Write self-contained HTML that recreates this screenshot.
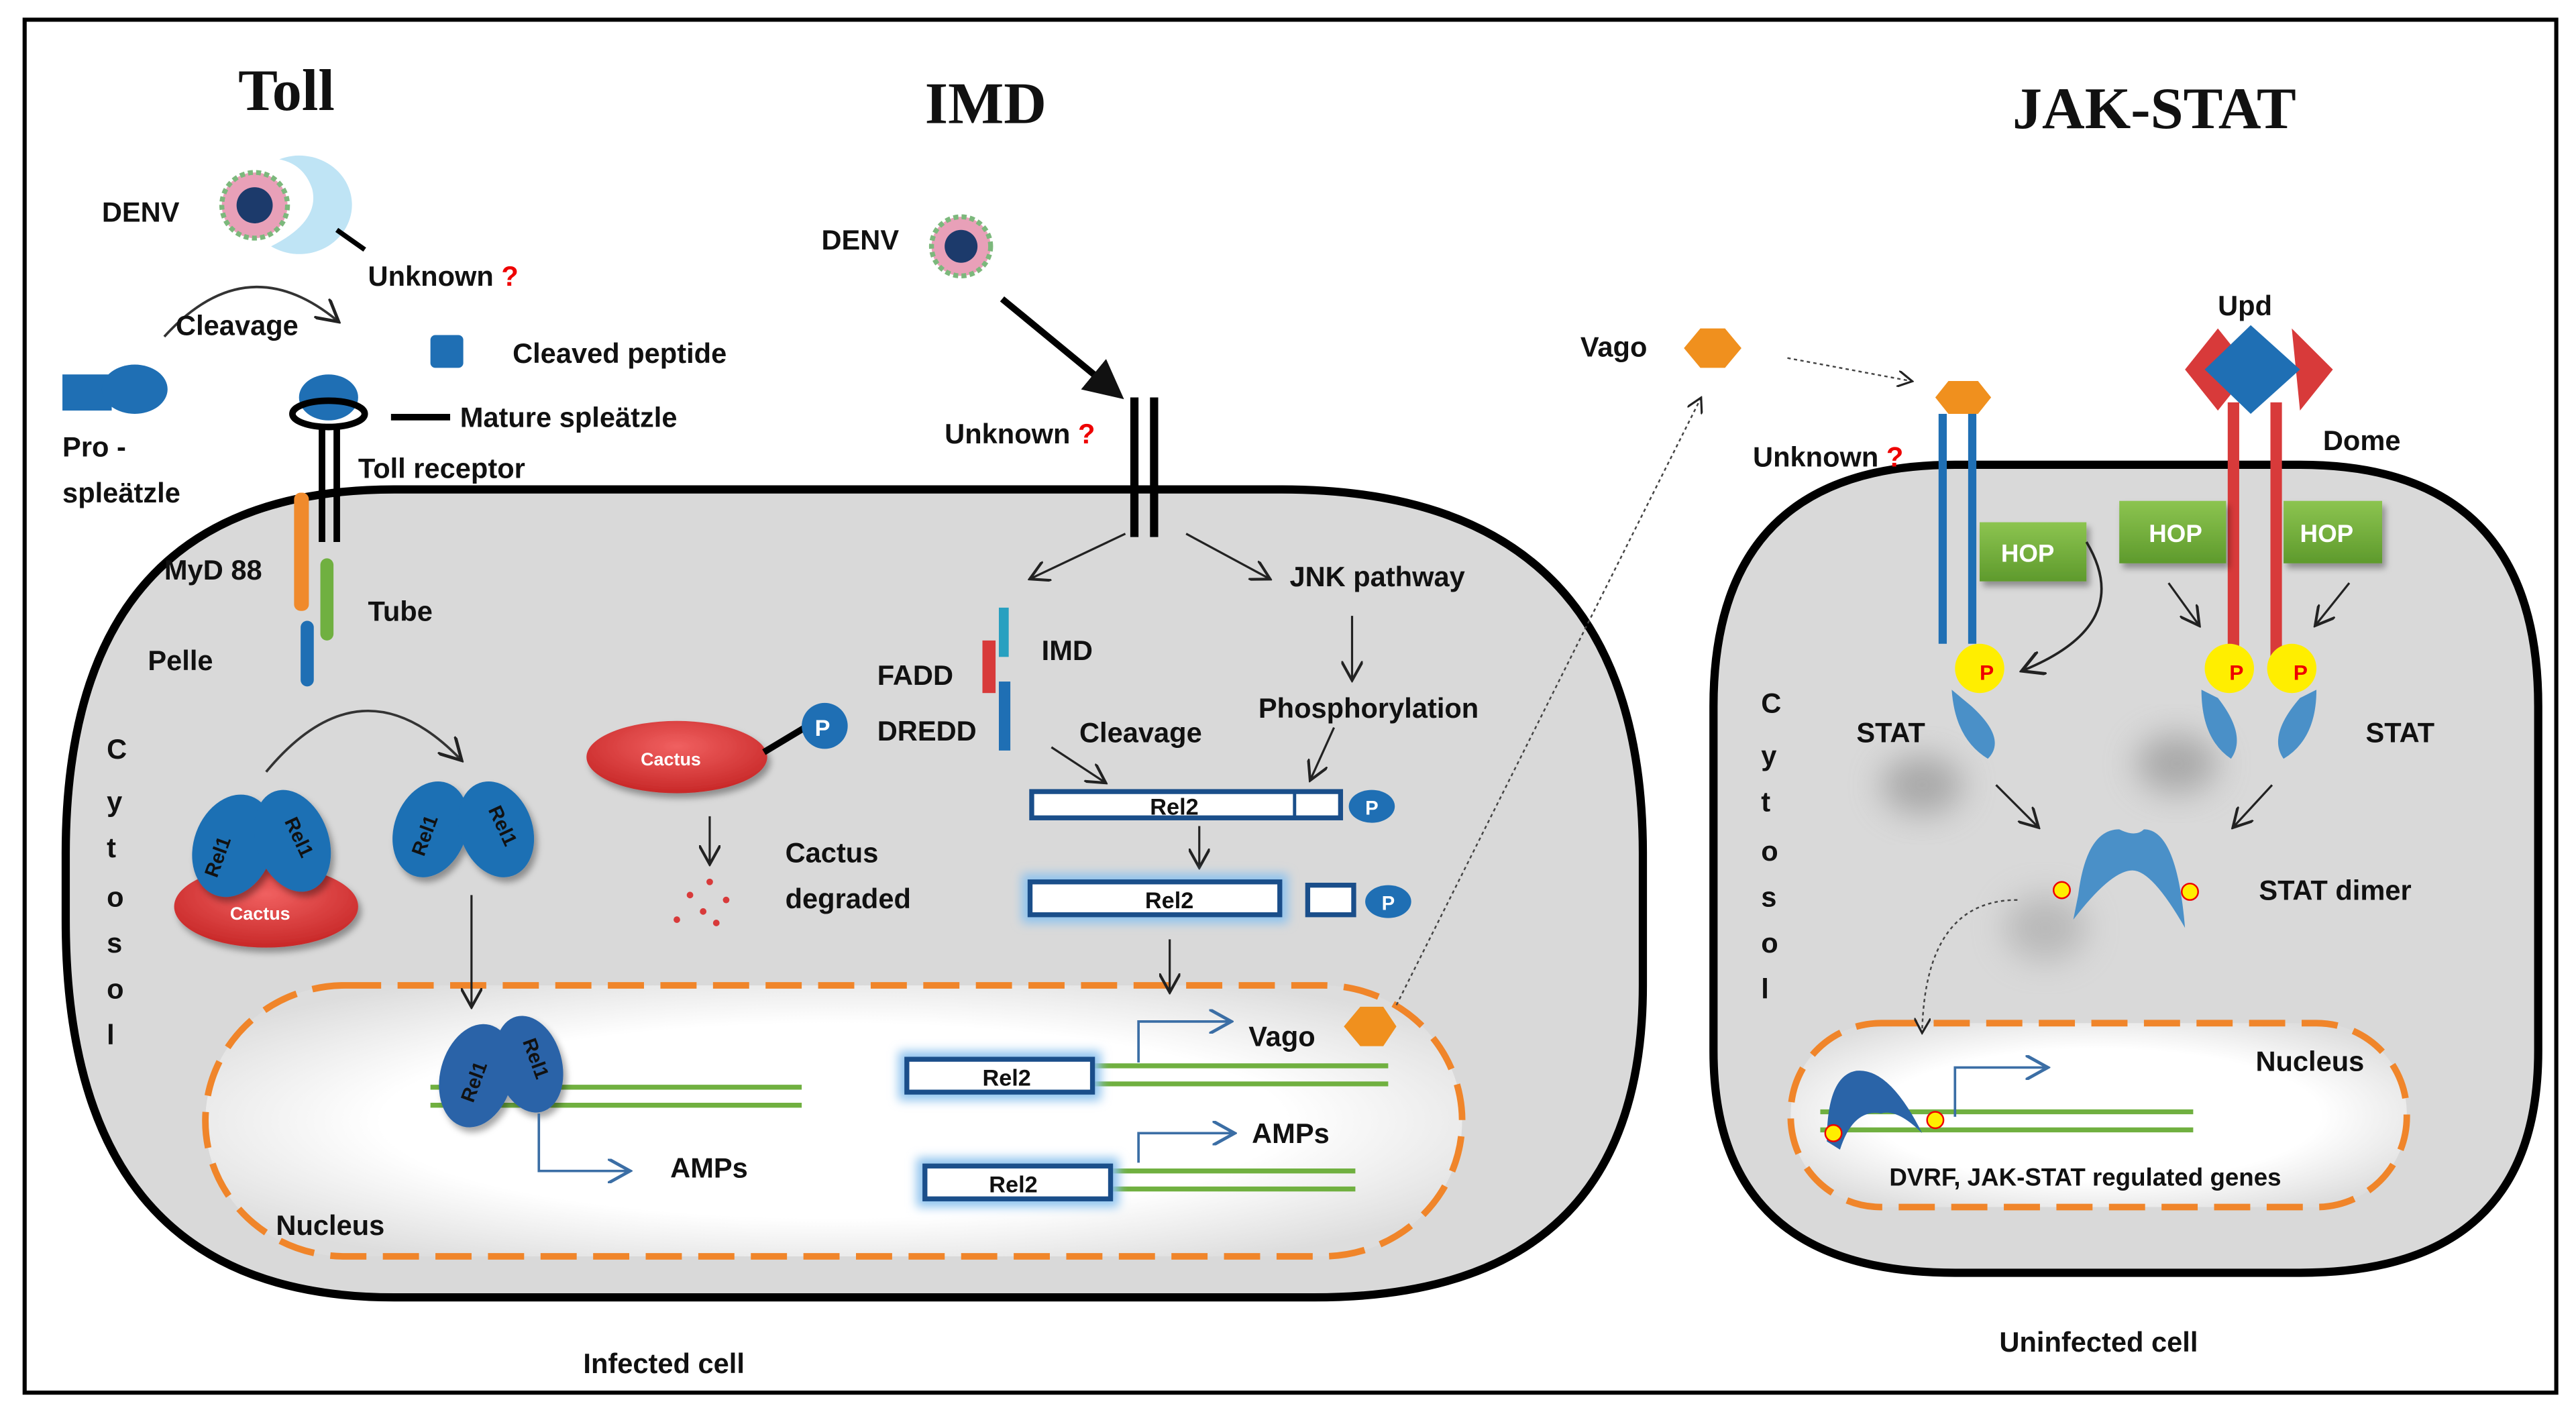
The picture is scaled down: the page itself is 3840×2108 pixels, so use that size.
<!DOCTYPE html>
<html><head><meta charset="utf-8"><style>
html,body{margin:0;padding:0;background:#fff}
svg{display:block}
text{font-family:"Liberation Sans",sans-serif;font-weight:bold;fill:#111}
.t{font-family:"Liberation Serif",serif;font-size:36px}
.l{font-size:17px}
</style></head><body>
<svg width="3840" height="2108" viewBox="0 0 1568 861" preserveAspectRatio="none" xmlns="http://www.w3.org/2000/svg">
<defs>
<radialGradient id="ng" cx="50%" cy="50%" r="60%"><stop offset="0.6" stop-color="#fff"/><stop offset="1" stop-color="#ddd"/></radialGradient>
<linearGradient id="hop" x1="0" y1="0" x2="0" y2="1"><stop offset="0" stop-color="#8cc450"/><stop offset="1" stop-color="#5e9a2c"/></linearGradient>
<radialGradient id="cac" cx="50%" cy="35%" r="65%"><stop offset="0" stop-color="#f06060"/><stop offset="1" stop-color="#c82828"/></radialGradient>
<filter id="blur" x="-50%" y="-50%" width="200%" height="200%"><feGaussianBlur stdDeviation="10"/></filter>
<filter id="glow" x="-20%" y="-50%" width="140%" height="200%"><feGaussianBlur stdDeviation="3"/></filter>
<filter id="sh" x="-30%" y="-30%" width="160%" height="160%"><feDropShadow dx="2" dy="3" stdDeviation="2" flood-color="#000" flood-opacity="0.35"/></filter>
<marker id="a" markerWidth="10" markerHeight="10" refX="8" refY="5" orient="auto"><path d="M0,0 L9,5 L0,10" fill="none" stroke="#222" stroke-width="1.3"/></marker>
<marker id="ab" markerWidth="10" markerHeight="10" refX="8" refY="5" orient="auto"><path d="M0,0 L9,5 L0,10" fill="none" stroke="#3b6ea5" stroke-width="1.3"/></marker>
<marker id="af" markerWidth="6" markerHeight="6" refX="4" refY="3" orient="auto"><path d="M0,0 L6,3 L0,6z" fill="#111"/></marker>
</defs>
<rect x="15" y="12" width="1541" height="836" fill="#fff" stroke="#000" stroke-width="2.5"/>
<path d="M240,298 L780,298 Q1000,298 1000,520 L1000,600 Q1000,790 800,790 L240,790 Q40,790 40,560 L40,520 Q40,298 240,298Z" fill="#d9d9d9" stroke="#000" stroke-width="5"/>
<path d="M1190,283 L1400,283 Q1545,283 1545,430 L1545,640 Q1545,775 1400,775 L1190,775 Q1043,775 1043,640 L1043,430 Q1043,283 1190,283Z" fill="#d9d9d9" stroke="#000" stroke-width="5"/>
<!-- blurry shadows in JAK-STAT -->
<ellipse cx="1170" cy="478" rx="25" ry="18" fill="#888" opacity="0.6" filter="url(#blur)"/>
<ellipse cx="1325" cy="465" rx="25" ry="18" fill="#888" opacity="0.6" filter="url(#blur)"/>
<ellipse cx="1245" cy="565" rx="25" ry="20" fill="#999" opacity="0.5" filter="url(#blur)"/>
<rect x="125" y="600" width="765" height="165" rx="85" fill="url(#ng)" stroke="#f0852a" stroke-width="4" stroke-dasharray="22,10"/>
<rect x="1090" y="623" width="375" height="112" rx="55" fill="url(#ng)" stroke="#f0852a" stroke-width="4" stroke-dasharray="22,10"/>
<text class="t" x="145" y="67">Toll</text>
<text class="t" x="563" y="75">IMD</text>
<text class="t" x="1225" y="78">JAK-STAT</text>
<!-- Toll -->
<text class="l" x="62" y="135">DENV</text>
<path d="M170,97 A32,30 0 1 1 165,150 Q195,135 190,115 Q185,100 170,97Z" fill="#bfe4f5"/>
<circle cx="155" cy="125" r="20" fill="#e8a0b8" stroke="#7cb87c" stroke-width="3" stroke-dasharray="3,2"/>
<circle cx="155" cy="125" r="11" fill="#1c3a6b"/>
<line x1="205" y1="140" x2="222" y2="152" stroke="#000" stroke-width="3"/>
<text class="l" x="224" y="174">Unknown <tspan fill="#e00">?</tspan></text>
<path d="M100,205 Q150,150 205,195" fill="none" stroke="#333" stroke-width="1.5" marker-end="url(#a)"/>
<text class="l" x="107" y="204">Cleavage</text>
<rect x="262" y="204" width="20" height="20" rx="3" fill="#1f6fb4"/>
<text class="l" x="312" y="221">Cleaved peptide</text>
<rect x="38" y="228" width="30" height="22" fill="#1f6fb4"/>
<ellipse cx="82" cy="237" rx="20" ry="15" fill="#1f6fb4"/>
<text class="l" x="38" y="278">Pro -</text>
<text class="l" x="38" y="306">spleätzle</text>
<ellipse cx="200" cy="242" rx="18" ry="14" fill="#1f6fb4"/>
<ellipse cx="200" cy="252" rx="22" ry="8" fill="none" stroke="#000" stroke-width="4"/>
<line x1="238" y1="254" x2="274" y2="254" stroke="#000" stroke-width="4"/>
<text class="l" x="280" y="260">Mature spleätzle</text>
<line x1="196" y1="258" x2="196" y2="330" stroke="#000" stroke-width="4"/>
<line x1="205" y1="258" x2="205" y2="330" stroke="#000" stroke-width="4"/>
<text class="l" x="218" y="291">Toll receptor</text>
<rect x="179" y="300" width="9" height="72" rx="4" fill="#f08a2c"/>
<rect x="195" y="340" width="8" height="50" rx="4" fill="#70b040"/>
<rect x="183" y="378" width="8" height="40" rx="4" fill="#1f6fb4"/>
<text class="l" x="100" y="353">MyD 88</text>
<text class="l" x="224" y="378">Tube</text>
<text class="l" x="90" y="408">Pelle</text>
<text class="l" x="65" y="462">C</text><text class="l" x="65" y="494">y</text><text class="l" x="65" y="522">t</text><text class="l" x="65" y="552">o</text><text class="l" x="65" y="580">s</text><text class="l" x="65" y="608">o</text><text class="l" x="65" y="636">l</text>
<path d="M162,470 Q220,400 280,462" fill="none" stroke="#333" stroke-width="1.5" marker-end="url(#a)"/>
<ellipse cx="162" cy="552" rx="56" ry="25" fill="url(#cac)" filter="url(#sh)"/>
<text x="140" y="560" style="font-size:11px;fill:#fff">Cactus</text>
<g filter="url(#sh)">
<ellipse cx="142" cy="515" rx="24" ry="32" fill="#1f6fb4" transform="rotate(20 142 515)"/>
<ellipse cx="178" cy="512" rx="22" ry="32" fill="#1f6fb4" transform="rotate(-20 178 512)"/>
<ellipse cx="262" cy="505" rx="22" ry="30" fill="#1f6fb4" transform="rotate(20 262 505)"/>
<ellipse cx="302" cy="505" rx="22" ry="30" fill="#1f6fb4" transform="rotate(-20 302 505)"/>
</g>
<text x="0" y="0" style="font-size:12px" transform="translate(132,535) rotate(-70)">Rel1</text>
<text x="0" y="0" style="font-size:12px" transform="translate(173,500) rotate(65)">Rel1</text>
<text x="0" y="0" style="font-size:12px" transform="translate(258,522) rotate(-70)">Rel1</text>
<text x="0" y="0" style="font-size:12px" transform="translate(297,493) rotate(65)">Rel1</text>
<line x1="287" y1="545" x2="287" y2="612" stroke="#222" stroke-width="1.3" marker-end="url(#a)"/>
<line x1="262" y1="662" x2="488" y2="662" stroke="#70b040" stroke-width="3"/>
<line x1="262" y1="673" x2="488" y2="673" stroke="#70b040" stroke-width="3"/>
<g filter="url(#sh)">
<ellipse cx="290" cy="655" rx="22" ry="32" fill="#2a64a8" transform="rotate(15 290 655)"/>
<ellipse cx="322" cy="648" rx="20" ry="30" fill="#2a64a8" transform="rotate(-15 322 648)"/>
</g>
<text x="0" y="0" style="font-size:12px" transform="translate(288,672) rotate(-70)">Rel1</text>
<text x="0" y="0" style="font-size:12px" transform="translate(318,634) rotate(70)">Rel1</text>
<path d="M328,678 L328,713 L382,713" fill="none" stroke="#3b6ea5" stroke-width="1.5" marker-end="url(#ab)"/>
<text class="l" x="408" y="717">AMPs</text>
<text class="l" x="168" y="752">Nucleus</text>
<!-- IMD -->
<text class="l" x="500" y="152">DENV</text>
<circle cx="585" cy="150" r="18" fill="#e8a0b8" stroke="#7cb87c" stroke-width="3" stroke-dasharray="3,2"/>
<circle cx="585" cy="150" r="10" fill="#1c3a6b"/>
<line x1="610" y1="182" x2="678" y2="238" stroke="#000" stroke-width="4" marker-end="url(#af)"/>
<rect x="688" y="242" width="5" height="85" fill="#000"/><rect x="700" y="242" width="5" height="85" fill="#000"/>
<text class="l" x="575" y="270">Unknown <tspan fill="#e00">?</tspan></text>
<line x1="685" y1="325" x2="628" y2="352" stroke="#222" stroke-width="1.3" marker-end="url(#a)"/>
<line x1="722" y1="325" x2="772" y2="352" stroke="#222" stroke-width="1.3" marker-end="url(#a)"/>
<text class="l" x="785" y="357">JNK pathway</text>
<line x1="823" y1="375" x2="823" y2="413" stroke="#222" stroke-width="1.3" marker-end="url(#a)"/>
<text class="l" x="766" y="437">Phosphorylation</text>
<rect x="608" y="370" width="6" height="30" fill="#28a0c0"/>
<rect x="598" y="390" width="8" height="32" fill="#d83a3a"/>
<rect x="608" y="415" width="7" height="42" fill="#1f6fb4"/>
<text class="l" x="634" y="402">IMD</text>
<text class="l" x="534" y="417">FADD</text>
<text class="l" x="534" y="451">DREDD</text>
<text class="l" x="657" y="452">Cleavage</text>
<ellipse cx="412" cy="461" rx="55" ry="22" fill="url(#cac)" filter="url(#sh)"/>
<text x="390" y="466" style="font-size:11px;fill:#fff">Cactus</text>
<line x1="465" y1="458" x2="490" y2="443" stroke="#000" stroke-width="4"/>
<circle cx="502" cy="442" r="14" fill="#1f6fb4"/><text x="496" y="448" style="font-size:14px;fill:#fff">P</text>
<line x1="432" y1="497" x2="432" y2="525" stroke="#222" stroke-width="1.3" marker-end="url(#a)"/>
<g fill="#d83a3a"><circle cx="432" cy="537" r="2"/><circle cx="420" cy="545" r="2"/><circle cx="442" cy="548" r="2"/><circle cx="428" cy="555" r="2"/><circle cx="412" cy="560" r="2"/><circle cx="436" cy="562" r="2"/></g>
<text class="l" x="478" y="525">Cactus</text>
<text class="l" x="478" y="553">degraded</text>
<line x1="640" y1="455" x2="672" y2="476" stroke="#222" stroke-width="1.3" marker-end="url(#a)"/>
<line x1="812" y1="443" x2="798" y2="474" stroke="#222" stroke-width="1.3" marker-end="url(#a)"/>
<rect x="628" y="482" width="188" height="16" fill="#fff" stroke="#1a4e8a" stroke-width="3"/>
<line x1="788" y1="482" x2="788" y2="498" stroke="#1a4e8a" stroke-width="2"/>
<text x="700" y="496" style="font-size:14px">Rel2</text>
<ellipse cx="835" cy="491" rx="14" ry="10" fill="#1f6fb4"/><text x="831" y="496" style="font-size:12px;fill:#fff">P</text>
<line x1="730" y1="503" x2="730" y2="527" stroke="#222" stroke-width="1.3" marker-end="url(#a)"/>
<rect x="622" y="532" width="162" height="30" fill="#8ec3ee" filter="url(#glow)"/>
<rect x="627" y="537" width="152" height="20" fill="#fff" stroke="#1a4e8a" stroke-width="3"/>
<text x="697" y="553" style="font-size:14px">Rel2</text>
<rect x="796" y="539" width="28" height="18" fill="#fff" stroke="#1a4e8a" stroke-width="3"/>
<ellipse cx="845" cy="549" rx="14" ry="10" fill="#1f6fb4"/><text x="841" y="554" style="font-size:12px;fill:#fff">P</text>
<line x1="712" y1="572" x2="712" y2="603" stroke="#222" stroke-width="1.3" marker-end="url(#a)"/>
<line x1="665" y1="649" x2="845" y2="649" stroke="#70b040" stroke-width="3"/>
<line x1="665" y1="660" x2="845" y2="660" stroke="#70b040" stroke-width="3"/>
<rect x="547" y="640" width="123" height="30" fill="#8ec3ee" filter="url(#glow)"/>
<rect x="552" y="645" width="113" height="20" fill="#fff" stroke="#1a4e8a" stroke-width="3"/>
<text x="598" y="661" style="font-size:14px">Rel2</text>
<path d="M693,647 L693,622 L748,622" fill="none" stroke="#3b6ea5" stroke-width="1.5" marker-end="url(#ab)"/>
<text class="l" x="760" y="637">Vago</text>
<polygon points="818,625 828,613 842,613 850,625 842,637 828,637" fill="#f0901e"/>
<line x1="665" y1="713" x2="825" y2="713" stroke="#70b040" stroke-width="3"/>
<line x1="665" y1="724" x2="825" y2="724" stroke="#70b040" stroke-width="3"/>
<rect x="558" y="705" width="123" height="30" fill="#8ec3ee" filter="url(#glow)"/>
<rect x="563" y="710" width="113" height="20" fill="#fff" stroke="#1a4e8a" stroke-width="3"/>
<text x="602" y="726" style="font-size:14px">Rel2</text>
<path d="M693,708 L693,690 L750,690" fill="none" stroke="#3b6ea5" stroke-width="1.5" marker-end="url(#ab)"/>
<text class="l" x="762" y="696">AMPs</text>
<line x1="850" y1="612" x2="1035" y2="243" stroke="#444" stroke-width="1" stroke-dasharray="2,2" marker-end="url(#a)"/>
<text class="l" x="355" y="836">Infected cell</text>
<!-- JAK-STAT -->
<text class="l" x="962" y="217">Vago</text>
<polygon points="1025,212 1035,200 1050,200 1060,212 1050,224 1035,224" fill="#f0901e"/>
<line x1="1088" y1="218" x2="1163" y2="232" stroke="#444" stroke-width="1" stroke-dasharray="2,2" marker-end="url(#a)"/>
<polygon points="1178,242 1186,232 1204,232 1212,242 1204,252 1186,252" fill="#f0901e"/>
<rect x="1180" y="252" width="5" height="140" fill="#1f6fb4"/><rect x="1198" y="252" width="5" height="140" fill="#1f6fb4"/>
<text class="l" x="1067" y="284">Unknown <tspan fill="#e00">?</tspan></text>
<text class="l" x="1350" y="192">Upd</text>
<polygon points="1330,225 1350,200 1370,225 1350,250" fill="#d83a3a"/>
<polygon points="1395,200 1420,225 1400,250" fill="#d83a3a"/>
<polygon points="1342,225 1370,198 1400,225 1370,252" fill="#1f6fb4"/>
<rect x="1356" y="245" width="7" height="160" fill="#d83a3a"/><rect x="1382" y="245" width="7" height="160" fill="#d83a3a"/>
<text class="l" x="1414" y="274">Dome</text>
<rect x="1205" y="318" width="65" height="36" fill="url(#hop)" filter="url(#sh)"/><text x="1218" y="342" style="font-size:15px;fill:#fff">HOP</text>
<rect x="1290" y="305" width="65" height="38" fill="url(#hop)" filter="url(#sh)"/><text x="1308" y="330" style="font-size:15px;fill:#fff">HOP</text>
<rect x="1390" y="305" width="60" height="38" fill="url(#hop)" filter="url(#sh)"/><text x="1400" y="330" style="font-size:15px;fill:#fff">HOP</text>
<circle cx="1205" cy="407" r="15" fill="#ffee00"/><text x="1205" y="414" style="font-size:13px;fill:#e00">P</text>
<circle cx="1357" cy="407" r="15" fill="#ffee00"/><text x="1357" y="414" style="font-size:13px;fill:#e00">P</text>
<circle cx="1395" cy="407" r="15" fill="#ffee00"/><text x="1396" y="414" style="font-size:13px;fill:#e00">P</text>
<path d="M1188,420 Q1190,450 1210,462 Q1222,450 1200,430Z" fill="#4a90c8"/>
<path d="M1340,420 Q1340,450 1358,462 Q1368,448 1350,425Z" fill="#4a90c8"/>
<path d="M1410,420 Q1410,450 1390,462 Q1380,448 1400,425Z" fill="#4a90c8"/>
<path d="M1270,330 Q1300,380 1232,408" fill="none" stroke="#222" stroke-width="1.5" marker-end="url(#a)"/>
<line x1="1320" y1="355" x2="1338" y2="380" stroke="#222" stroke-width="1.3" marker-end="url(#a)"/>
<line x1="1430" y1="355" x2="1410" y2="380" stroke="#222" stroke-width="1.3" marker-end="url(#a)"/>
<text class="l" x="1130" y="452">STAT</text>
<text class="l" x="1440" y="452">STAT</text>
<text class="l" x="1072" y="434">C</text><text class="l" x="1072" y="466">y</text><text class="l" x="1072" y="494">t</text><text class="l" x="1072" y="524">o</text><text class="l" x="1072" y="552">s</text><text class="l" x="1072" y="580">o</text><text class="l" x="1072" y="608">l</text>
<line x1="1215" y1="478" x2="1240" y2="503" stroke="#222" stroke-width="1.3" marker-end="url(#a)"/>
<line x1="1383" y1="478" x2="1360" y2="503" stroke="#222" stroke-width="1.3" marker-end="url(#a)"/>
<path d="M1265,545 Q1270,505 1290,505 Q1300,510 1305,505 Q1325,505 1330,565 Q1310,530 1298,530 Q1285,530 1262,560Z" fill="#4a90c8"/>
<circle cx="1255" cy="542" r="5" fill="#ffee00" stroke="#e00"/><circle cx="1333" cy="543" r="5" fill="#ffee00" stroke="#e00"/>
<text class="l" x="1375" y="548">STAT dimer</text>
<path d="M1228,548 Q1172,548 1170,628" fill="none" stroke="#444" stroke-width="1" stroke-dasharray="2,2" marker-end="url(#a)"/>
<line x1="1108" y1="677" x2="1335" y2="677" stroke="#70b040" stroke-width="3"/>
<line x1="1108" y1="688" x2="1335" y2="688" stroke="#70b040" stroke-width="3"/>
<path d="M1112,695 Q1112,655 1130,652 Q1150,650 1170,690 Q1155,675 1145,678 Q1128,675 1120,700Z" fill="#2a64a8"/>
<circle cx="1116" cy="690" r="5" fill="#ffee00" stroke="#e00"/><circle cx="1178" cy="682" r="5" fill="#ffee00" stroke="#e00"/>
<path d="M1190,680 L1190,650 L1245,650" fill="none" stroke="#3b6ea5" stroke-width="1.5" marker-end="url(#ab)"/>
<text class="l" x="1373" y="652">Nucleus</text>
<text x="1150" y="722" style="font-size:15px">DVRF, JAK-STAT regulated genes</text>
<text class="l" x="1217" y="823">Uninfected cell</text>
</svg>
</body></html>
